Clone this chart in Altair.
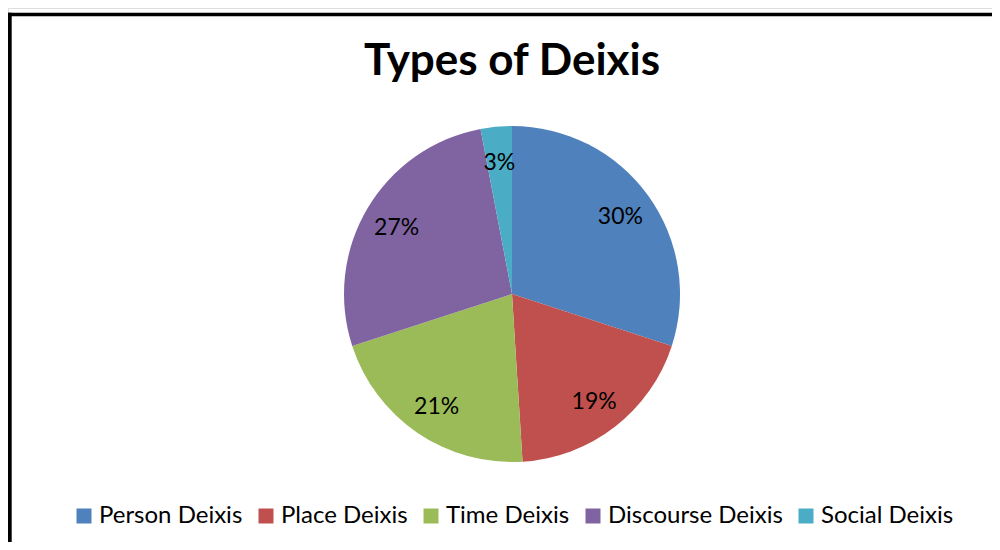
import altair as alt
import pandas as pd

categories = ["Person Deixis", "Place Deixis", "Time Deixis", "Discourse Deixis", "Social Deixis"]
percents = [30, 19, 21, 27, 3]
colors = ["#4F81BD", "#C0504D", "#9BBB59", "#8064A2", "#4BACC6"]

df = pd.DataFrame({
    "category": categories,
    "value": percents,
    "idx": list(range(len(categories))),
    "label": [f"{p}%" for p in percents],
})

W, H = 984, 534
CX, CY = 504, 286
R = 168

base = alt.Chart(df).encode(
    theta=alt.Theta("value:Q", stack=True),
    order=alt.Order("idx:Q", sort="ascending"),
)

pie = base.mark_arc(radius=R).encode(
    x=alt.value(CX), y=alt.value(CY),
    color=alt.Color(
        "category:N",
        scale=alt.Scale(domain=categories, range=colors),
        legend=alt.Legend(
            title=None, orient="none", legendX=64, legendY=496,
            direction="horizontal", columns=5,
            symbolType="square", symbolSize=225, symbolStrokeWidth=0,
            labelFont="Lato", labelFontSize=24, labelColor="#000000",
            labelOffset=3, columnPadding=11, labelLimit=400,
        ),
    ),
)

labels = base.mark_text(radius=134, font="Lato", fontSize=23, color="#000000", dy=2).encode(
    x=alt.value(CX), y=alt.value(CY),
    text="label:N",
)

frame_df = pd.DataFrame({"a": [0]})
top_line = alt.Chart(frame_df).mark_rule(color="#000000", strokeWidth=3.4).encode(
    x=alt.value(-0.5), x2=alt.value(W), y=alt.value(6.5)
)
left_line = alt.Chart(frame_df).mark_rule(color="#000000", strokeWidth=4.2).encode(
    x=alt.value(1.6), y=alt.value(4.8), y2=alt.value(H)
)

chart = alt.layer(top_line, left_line, pie, labels).properties(
    width=W, height=H,
    autosize=alt.AutoSizeParams(type="none"),
    padding=0,
    title=alt.TitleParams(
        "Types of Deixis", font="Lato", fontSize=44, fontWeight="bold",
        color="#000000", anchor="middle", frame="group",
        baseline="alphabetic", offset=-111, dx=12,
    ),
).configure_view(stroke=None).configure(background="#ffffff")

chart.save("out.html", embed_options={"renderer": "svg", "actions": False})
